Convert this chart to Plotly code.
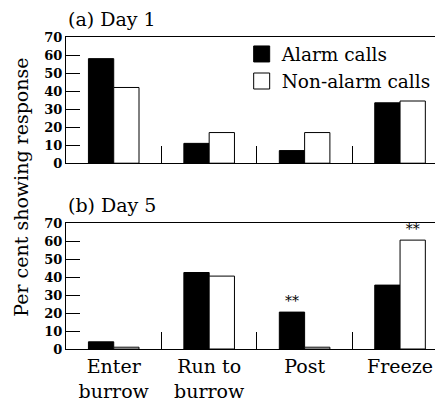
import plotly.graph_objects as go

categories = ["Enter<br>burrow", "Run to<br>burrow", "Post", "Freeze"]
day1_alarm = [58, 11, 7, 33.5]
day1_nonalarm = [42, 17, 17, 34.5]
day5_alarm = [4, 42.5, 20.5, 35.5]
day5_nonalarm = [1, 40.5, 1, 60.5]
day5_alarm_sig = ["", "", "**", ""]
day5_nonalarm_sig = ["", "", "", "**"]
y_ticks = [0, 10, 20, 30, 40, 50, 60, 70]

FONT = "DejaVu Serif"
fig = go.Figure()

bar_common = dict(marker_line=dict(color="black", width=1), showlegend=False,
                  textposition="outside", cliponaxis=False,
                  textfont=dict(family=FONT, size=14, color="black"))

fig.add_trace(go.Bar(x=categories, y=day1_alarm, marker_color="black",
                     xaxis="x", yaxis="y", **bar_common))
fig.add_trace(go.Bar(x=categories, y=day1_nonalarm, marker_color="white",
                     xaxis="x", yaxis="y", **bar_common))
fig.add_trace(go.Bar(x=categories, y=day5_alarm, marker_color="black",
                     text=day5_alarm_sig, xaxis="x2", yaxis="y2", **bar_common))
fig.add_trace(go.Bar(x=categories, y=day5_nonalarm, marker_color="white",
                     text=day5_nonalarm_sig, xaxis="x2", yaxis="y2", **bar_common))

# legend proxies
fig.add_trace(go.Scatter(x=[None], y=[None], mode="markers", name="Alarm calls",
                         marker=dict(symbol="square", size=18, color="black",
                                     line=dict(color="black", width=1))))
fig.add_trace(go.Scatter(x=[None], y=[None], mode="markers", name="Non-alarm calls",
                         marker=dict(symbol="square", size=18, color="white",
                                     line=dict(color="black", width=1))))

xcommon = dict(type="category", range=[-0.5, 3.45], showline=True, linecolor="black",
               linewidth=1, mirror=True, ticks="inside", tickson="boundaries",
               ticklen=17, tickcolor="black", tickwidth=1, showgrid=False,
               zeroline=False, automargin=False,
               tickfont=dict(family=FONT, size=19, color="black"))
ycommon = dict(range=[0, 70], tickvals=y_ticks, showline=True, linecolor="black",
               linewidth=1, ticks="inside", ticklen=14, tickcolor="black",
               showgrid=False, zeroline=False, automargin=False,
               tickfont=dict(family=FONT, size=13, color="black", weight="bold"))

# page body has an 8px margin, so the figure is offset by 8px
fig.update_layout(
    width=435, height=393,
    margin=dict(l=58, r=0, t=29, b=52, autoexpand=False),
    paper_bgcolor="white", plot_bgcolor="white",
    barmode="group", bargap=0.47, bargroupgap=0,
    font=dict(family=FONT, color="black"),
    xaxis=dict(domain=[0, 1], anchor="y", showticklabels=False, **xcommon),
    yaxis=dict(domain=[0.5955, 1.0], anchor="x", **ycommon),
    xaxis2=dict(domain=[0, 1], anchor="y2", matches="x", **xcommon),
    yaxis2=dict(domain=[0, 0.4038], anchor="x2", **ycommon),
    legend=dict(x=0.466, y=1.005, xanchor="left", yanchor="top",
                font=dict(family=FONT, size=18.5, color="black"),
                bgcolor="rgba(0,0,0,0)", itemwidth=30, tracegroupgap=0),
    annotations=[
        dict(text="(a) Day 1", xref="paper", yref="paper", x=0, y=1.059,
             xanchor="left", yanchor="middle", showarrow=False,
             font=dict(family=FONT, size=19, color="black")),
        dict(text="(b) Day 5", xref="paper", yref="paper", x=0, y=0.4625,
             xanchor="left", yanchor="middle", showarrow=False,
             font=dict(family=FONT, size=19, color="black")),
        dict(text="Per cent showing response", xref="paper", yref="paper",
             x=-45 / 377, y=0.517, xanchor="center", yanchor="middle",
             textangle=-90, showarrow=False,
             font=dict(family=FONT, size=19, color="black")),
    ],
)

fig.write_html("out.html")
